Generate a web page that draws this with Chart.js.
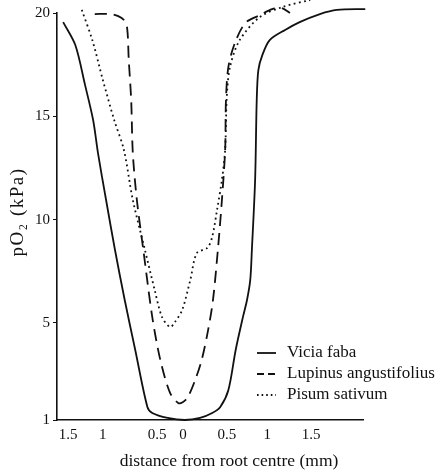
<!DOCTYPE html>
<html>
<head>
<meta charset="utf-8">
<script src="https://cdn.jsdelivr.net/npm/chart.js@4"></script>
<style>
  html, body { margin: 0; padding: 0; background: #fff; }
</style>
</head>
<body>
<canvas id="chart" width="442" height="473"></canvas>
<script>
// distance from root centre (mm), negative = left side
const viciaX = [-1.48,-1.33,-1.21,-1.11,-1.05,-0.95,-0.84,-0.72,-0.59,-0.44,-0.38,-0.19,0.02,0.21,0.36,0.46,0.56,0.65,0.74,0.79,0.83,0.85,0.89,0.91,0.93,0.98,1.07,1.26,1.44,1.69,1.90,2.25];
const viciaY = [19.56,18.45,16.52,14.82,13.22,10.95,8.53,6.11,3.69,0.93,0.64,0.40,0.30,0.40,0.64,0.93,1.75,3.69,5.29,6.11,7.08,8.53,11.92,15.79,17.24,17.97,18.69,19.18,19.56,19.95,20.15,20.19];

const lupinusX = [-1.09,-0.90,-0.80,-0.73,-0.69,-0.67,-0.64,-0.62,-0.57,-0.49,-0.38,-0.28,-0.16,-0.06,0.00,0.06,0.15,0.23,0.31,0.37,0.43,0.48,0.52,0.53,0.56,0.64,0.77,0.95,1.10,1.22,1.32];
const lupinusY = [19.95,19.95,19.85,19.66,19.27,17.73,15.79,13.22,10.95,8.53,5.29,3.20,1.61,1.12,1.17,1.41,2.24,3.20,4.66,6.11,8.53,10.95,13.37,15.79,17.39,18.55,19.52,19.90,20.19,20.24,20.00];

const pisumX = [-1.25,-1.12,-0.99,-0.85,-0.73,-0.62,-0.47,-0.35,-0.26,-0.16,-0.10,-0.01,0.09,0.17,0.30,0.36,0.42,0.48,0.52,0.54,0.58,0.70,0.95,1.23,1.57];
const pisumY = [20.15,18.69,16.76,14.82,13.37,10.95,8.53,6.59,5.29,4.80,5.04,5.63,7.08,8.38,8.63,9.16,10.47,11.92,13.37,15.93,17.39,18.69,19.81,20.29,20.63];

// tick labels as printed on the figure
const xTickPos = [-1.42,-0.99,-0.32,0,0.54,1.04,1.58];
const xTickLabels = ['1.5','1','0.5','0','0.5','1','1.5'];
const yTickPos = [0.3,5,10,15,20];
const yTickLabels = ['1','5','10','15','20'];

const seriesNames = ['Vicia faba','Lupinus angustifolius','Pisum sativum'];

const serif = "'Liberation Serif', 'DejaVu Serif', serif";

function toPoints(xs, ys) {
  return xs.map((x, i) => ({ x: x, y: ys[i] }));
}

// legend + axis titles drawn by hand, like the printed figure
const figureText = {
  id: 'figureText',
  afterDraw(chart) {
    const ctx = chart.ctx;
    ctx.save();
    ctx.fillStyle = '#111';
    ctx.strokeStyle = '#111';
    ctx.font = '17px ' + serif;
    ctx.textBaseline = 'middle';

    // legend
    const legendY = [353, 374, 395];
    const sampleDash = [[], [7, 4], [1.6, 3]];
    chart.data.datasets.forEach((ds, i) => {
      ctx.lineWidth = ds.borderWidth;
      ctx.setLineDash(sampleDash[i]);
      ctx.beginPath();
      ctx.moveTo(257, legendY[i]);
      ctx.lineTo(276, legendY[i]);
      ctx.stroke();
      ctx.setLineDash([]);
      ctx.textAlign = 'left';
      ctx.fillText(ds.label, 287, legendY[i]);
    });

    // x title
    ctx.textAlign = 'center';
    ctx.font = '17.5px ' + serif;
    ctx.fillText('distance from root centre (mm)', 229, 461);

    // y title
    ctx.font = '19px ' + serif;
    ctx.letterSpacing = '1.5px';
    ctx.translate(18, 212);
    ctx.rotate(-Math.PI / 2);
    ctx.fillText('pO\u2082 (kPa)', 0, 0);
    ctx.restore();
  }
};

new Chart(document.getElementById('chart'), {
  type: 'line',
  data: {
    datasets: [
      {
        label: seriesNames[0],
        data: toPoints(viciaX, viciaY),
        borderColor: '#111',
        borderWidth: 1.8,
        clip: false
      },
      {
        label: seriesNames[1],
        data: toPoints(lupinusX, lupinusY),
        borderColor: '#111',
        borderWidth: 1.8,
        borderDash: [12, 7],
        clip: false
      },
      {
        label: seriesNames[2],
        data: toPoints(pisumX, pisumY),
        borderColor: '#111',
        borderWidth: 1.8,
        borderDash: [1.8, 3.4],
        clip: false
      }
    ]
  },
  options: {
    responsive: false,
    animation: false,
    devicePixelRatio: 1,
    layout: { padding: { top: 13, right: 79, left: 0, bottom: 0 } },
    elements: {
      point: { radius: 0 },
      line: { tension: 0.3, fill: false }
    },
    plugins: {
      legend: { display: false },
      tooltip: { enabled: false }
    },
    scales: {
      x: {
        type: 'linear',
        min: -1.556,
        max: 2.222,
        afterFit: (scale) => { scale.height = 53; },
        afterBuildTicks: (scale) => { scale.ticks = xTickPos.map(v => ({ value: v })); },
        grid: { display: false, drawTicks: false },
        border: { display: true, color: '#111', width: 1.6 },
        ticks: {
          autoSkip: false,
          maxRotation: 0,
          padding: 6,
          color: '#111',
          font: { family: serif, size: 15 },
          callback: (v, i) => xTickLabels[i]
        }
      },
      y: {
        type: 'linear',
        min: 0.3,
        max: 20,
        afterFit: (scale) => { scale.width = 57; },
        afterBuildTicks: (scale) => { scale.ticks = yTickPos.map(v => ({ value: v })); },
        grid: { display: true, drawOnChartArea: false, drawTicks: true, tickLength: 4, color: '#111', lineWidth: 1 },
        border: { display: true, color: '#111', width: 1.6 },
        ticks: {
          autoSkip: false,
          padding: 3,
          color: '#111',
          font: { family: serif, size: 15 },
          callback: (v, i) => yTickLabels[i]
        }
      }
    }
  },
  plugins: [figureText]
});
</script>
</body>
</html>
